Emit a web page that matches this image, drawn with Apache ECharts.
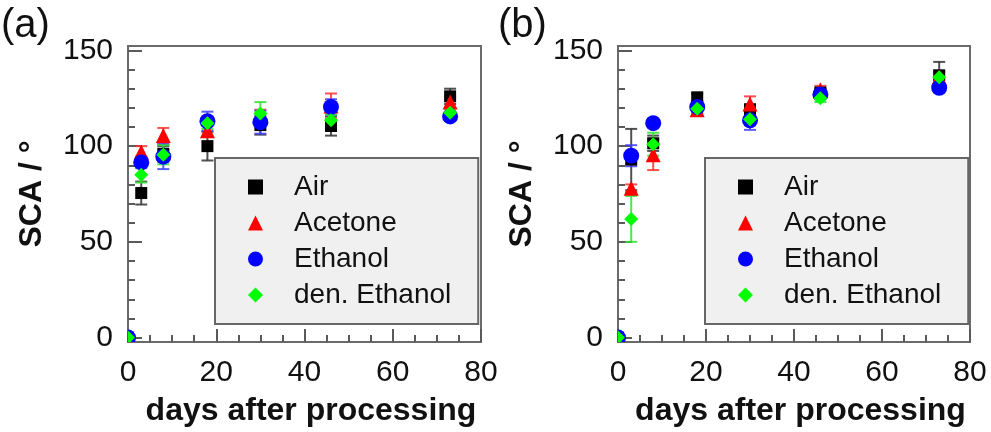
<!DOCTYPE html>
<html>
<head>
<meta charset="utf-8">
<script src="https://cdn.jsdelivr.net/npm/echarts@6/dist/echarts.min.js"></script>
<style>html,body{margin:0;padding:0;background:#fff}#c{width:991px;height:432px}</style>
</head>
<body>
<div id="c"></div>
<script>
// ---- data ----
const days = [0, 3, 8, 18, 30, 46, 73];
const seriesNames = ['Air', 'Acetone', 'Ethanol', 'den. Ethanol'];
const xTicks = [0, 20, 40, 60, 80];
const yTicks = [0, 50, 100, 150];
const yMinorTicks = [10, 20, 30, 40, 60, 70, 80, 90, 110, 120, 130, 140];

// panel (a)
const aAir = [0, 75.5, 96, 100, 111, 110.5, 126];
const aAirErr = [0, 6, 4, 7.5, 5, 5, 4];
const aAcetone = [0, 97, 105.5, 108, 115, 121, 123];
const aAcetoneErr = [0, 3, 4, 3, 4, 6.5, 3];
const aEthanol = [0, 91.5, 94.5, 113, 112.5, 120.5, 115.5];
const aEthanolErr = [0, 3, 6.5, 5, 6, 4, 2];
const aDenEthanol = [0, 85, 95.5, 112, 117, 113.5, 117.5];
const aDenEthanolErr = [0, 4, 5, 3, 6, 3, 2];

// panel (b)
const bAir = [0, 93, 101.5, 125.5, 119, 128, 137];
const bAirErr = [0, 16, 4, 2, 3, 2, 7];
const bAcetone = [0, 78, 95.5, 119, 122, 129.5, 136];
const bAcetoneErr = [0, 2, 8, 2, 4, 2, 3];
const bEthanol = [0, 95, 112, 120.5, 113.5, 127, 130.5];
const bEthanolErr = [0, 5.5, 2, 2, 5, 2, 2];
const bDenEthanol = [0, 62, 101, 119.5, 114, 125, 136];
const bDenEthanolErr = [0, 12, 6, 2, 3, 2, 3];

// ---- styles ----
const FONT = "'Liberation Sans', Arial, sans-serif";
const AXIS_COLOR = '#6a6a6a';
const TICK_COLOR = '#5a5a5a';
const markerColors = ['#000000', '#ff0000', '#0000ff', '#00ff00'];
const errColors = ['#333333', '#ff3030', '#4040ff', '#30e030'];
const symbols = ['rect', 'triangle', 'circle', 'diamond'];
const symbolSizes = [12, 15, 16, 14];

const panels = [
  { vals: [aAir, aAcetone, aEthanol, aDenEthanol], errs: [aAirErr, aAcetoneErr, aEthanolErr, aDenEthanolErr] },
  { vals: [bAir, bAcetone, bEthanol, bDenEthanol], errs: [bAirErr, bAcetoneErr, bEthanolErr, bDenEthanolErr] }
];

const gridLefts = [128, 618];
const gridWidths = [353, 352];

function errRender(params, api) {
  const x = api.value(0), lo = api.value(1), hi = api.value(2);
  const p1 = api.coord([x, hi]);
  const p2 = api.coord([x, lo]);
  const hw = 6;
  const style = { stroke: api.visual('color'), lineWidth: 2, opacity: 0.85 };
  return {
    type: 'group',
    children: [
      { type: 'line', shape: { x1: p1[0], y1: p1[1], x2: p2[0], y2: p2[1] }, style },
      { type: 'line', shape: { x1: p1[0] - hw, y1: p1[1], x2: p1[0] + hw, y2: p1[1] }, style },
      { type: 'line', shape: { x1: p2[0] - hw, y1: p2[1], x2: p2[0] + hw, y2: p2[1] }, style }
    ]
  };
}

// markers lying on the plot border are drawn clipped to the plot area
function makeClippedRender(sym, size) {
  return function (params, api) {
    const c = api.coord([api.value(0), api.value(1)]);
    const h = size / 2;
    const style = { fill: api.visual('color') };
    if (sym === 'rect') return { type: 'rect', shape: { x: c[0] - h, y: c[1] - h, width: size, height: size }, style };
    if (sym === 'circle') return { type: 'circle', shape: { cx: c[0], cy: c[1], r: h }, style };
    if (sym === 'triangle') return { type: 'polygon', shape: { points: [[c[0], c[1] - h], [c[0] + h, c[1] + h], [c[0] - h, c[1] + h]] }, style };
    return { type: 'polygon', shape: { points: [[c[0], c[1] - h], [c[0] + h, c[1]], [c[0], c[1] + h], [c[0] - h, c[1]]] }, style };
  };
}

const grids = [], xAxes = [], yAxes = [], series = [], legends = [], titles = [];

gridLefts.forEach((left, g) => {
  grids.push({ left: left, top: 46, width: gridWidths[g], height: 296, show: true,
    borderColor: AXIS_COLOR, borderWidth: 2 });

  xAxes.push({
    gridIndex: g, type: 'value', position: 'bottom', min: 0, max: 80, interval: 20,
    axisLine: { show: true, onZero: false, lineStyle: { color: AXIS_COLOR, width: 2 } },
    axisTick: { show: true, inside: true, length: 13, lineStyle: { color: TICK_COLOR, width: 2 } },
    axisLabel: { show: true, fontSize: 30, color: '#111', fontFamily: FONT, margin: 16 },
    splitLine: { show: false },
    name: 'days after processing', nameLocation: 'middle', nameGap: 53,
    nameTextStyle: { fontSize: 32, fontWeight: 'bold', color: '#111', fontFamily: FONT, padding: [0, 0, 0, 13] }
  });
  xAxes.push({
    gridIndex: g, type: 'value', position: 'bottom', min: 0, max: 80, interval: 5,
    axisLine: { show: false, onZero: false },
    axisTick: { show: true, inside: true, length: 7, lineStyle: { color: TICK_COLOR, width: 2 } },
    axisLabel: { show: false }, splitLine: { show: false }
  });
  yAxes.push({
    gridIndex: g, type: 'value', position: 'left', min: -2.3, max: 152.3,
    axisLine: { show: true, onZero: false, lineStyle: { color: AXIS_COLOR, width: 2 } },
    axisTick: { show: true, inside: true, length: 14, customValues: yTicks, lineStyle: { color: TICK_COLOR, width: 2 } },
    axisLabel: { show: true, customValues: yTicks, fontSize: 30, color: '#111', fontFamily: FONT, margin: 15 },
    splitLine: { show: false },
    name: 'SCA / °', nameLocation: 'middle', nameGap: 80,
    nameTextStyle: { fontSize: 32, fontWeight: 'bold', color: '#111', fontFamily: FONT }
  });
  yAxes.push({
    gridIndex: g, type: 'value', position: 'left', min: -2.3, max: 152.3,
    axisLine: { show: false, onZero: false },
    axisTick: { show: true, inside: true, length: 7, customValues: yMinorTicks, lineStyle: { color: TICK_COLOR, width: 2 } },
    axisLabel: { show: false }, splitLine: { show: false }
  });

  const p = panels[g];
  seriesNames.forEach((name, s) => {
    const errData = [];
    const borderData = [];
    const innerData = [];
    days.forEach((d, i) => {
      if (p.errs[s][i] > 0) errData.push([d, p.vals[s][i] - p.errs[s][i], p.vals[s][i] + p.errs[s][i]]);
      if (d === 0) borderData.push([d, p.vals[s][i]]);
      else innerData.push([d, p.vals[s][i]]);
    });
    series.push({
      type: 'custom', name: name + ' err', xAxisIndex: g * 2, yAxisIndex: g * 2,
      renderItem: errRender, data: errData, encode: { x: 0, y: [1, 2] },
      itemStyle: { color: errColors[s] }, silent: true, animation: false
    });
    series.push({
      type: 'custom', name: name + ' edge', xAxisIndex: g * 2, yAxisIndex: g * 2,
      renderItem: makeClippedRender(symbols[s], symbolSizes[s]), data: borderData,
      encode: { x: 0, y: 1 }, clip: true,
      itemStyle: { color: markerColors[s] }, silent: true, animation: false
    });
    series.push({
      type: 'scatter', name: name, xAxisIndex: g * 2, yAxisIndex: g * 2,
      symbol: symbols[s], symbolSize: symbolSizes[s],
      itemStyle: { color: markerColors[s], opacity: 1 },
      data: innerData,
      animation: false
    });
  });

  legends.push({
    left: left + 87, top: 158, orient: 'vertical', selectedMode: false,
    data: seriesNames,
    itemWidth: 15, itemHeight: 15, itemGap: 8,
    padding: [15, 27, 15, 33],
    backgroundColor: '#f0f0f0', borderColor: '#666', borderWidth: 2, borderRadius: 0,
    textStyle: { fontSize: 28, color: '#111', fontFamily: FONT, lineHeight: 28, padding: [0, 0, 0, 26] }
  });

  titles.push({
    text: g === 0 ? '(a)' : '(b)', left: g === 0 ? 1 : 498, top: 6, padding: 0,
    textStyle: { fontSize: 40, fontWeight: 'normal', color: '#111', fontFamily: FONT }
  });
});

const chart = echarts.init(document.getElementById('c'), null, { renderer: 'canvas' });
chart.setOption({
  animation: false,
  backgroundColor: '#ffffff',
  title: titles,
  grid: grids,
  xAxis: xAxes,
  yAxis: yAxes,
  legend: legends,
  series: series
});
</script>
</body>
</html>
